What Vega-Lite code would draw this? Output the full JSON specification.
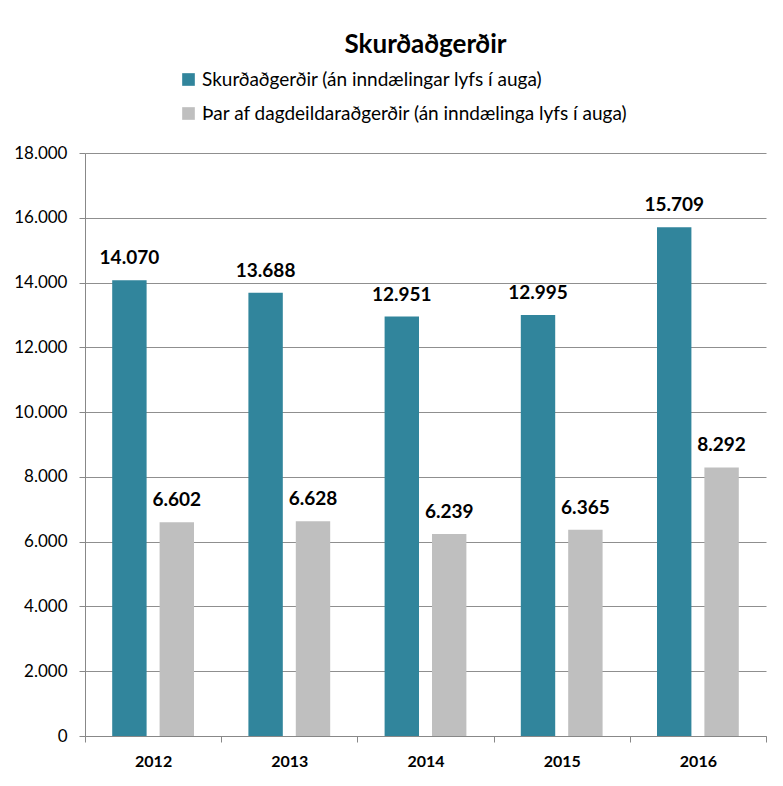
{
  "$schema": "https://vega.github.io/schema/vega-lite/v6.json",
  "width": 681,
  "height": 583,
  "autosize": {"type": "none"},
  "padding": {"left": 85, "top": 153, "right": 17, "bottom": 50},
  "background": "white",
  "config": {
    "locale": {"number": {"decimal": ",", "thousands": ".", "grouping": [3], "currency": ["", " kr."]}},
    "font": "Lato",
    "view": {"stroke": null}
  },
  "title": {
    "text": "Skurðaðgerðir",
    "fontSize": 26,
    "fontWeight": "bold",
    "font": "Lato",
    "color": "#000000",
    "anchor": "middle",
    "frame": "group",
    "offset": 12
  },
  "data": {
    "values": [
      {"year": "2012", "series": "Skurðaðgerðir (án inndælingar lyfs í auga)", "value": 14070},
      {"year": "2012", "series": "Þar af dagdeildaraðgerðir (án inndælinga lyfs í auga)", "value": 6602},
      {"year": "2013", "series": "Skurðaðgerðir (án inndælingar lyfs í auga)", "value": 13688},
      {"year": "2013", "series": "Þar af dagdeildaraðgerðir (án inndælinga lyfs í auga)", "value": 6628},
      {"year": "2014", "series": "Skurðaðgerðir (án inndælingar lyfs í auga)", "value": 12951},
      {"year": "2014", "series": "Þar af dagdeildaraðgerðir (án inndælinga lyfs í auga)", "value": 6239},
      {"year": "2015", "series": "Skurðaðgerðir (án inndælingar lyfs í auga)", "value": 12995},
      {"year": "2015", "series": "Þar af dagdeildaraðgerðir (án inndælinga lyfs í auga)", "value": 6365},
      {"year": "2016", "series": "Skurðaðgerðir (án inndælingar lyfs í auga)", "value": 15709},
      {"year": "2016", "series": "Þar af dagdeildaraðgerðir (án inndælinga lyfs í auga)", "value": 8292}
    ]
  },
  "encoding": {
    "x": {
      "field": "year",
      "type": "nominal",
      "title": null,
      "scale": {"paddingInner": 0, "paddingOuter": 0},
      "axis": {
        "labelAngle": 0,
        "labelFontWeight": "bold",
        "labelFontSize": 16,
        "labelColor": "#000000",
        "labelPadding": 11,
        "tickBand": "extent",
        "tickSize": 6,
        "tickColor": "#888888",
        "domainColor": "#888888",
        "grid": false
      }
    },
    "xOffset": {
      "field": "series",
      "type": "nominal",
      "scale": {"paddingInner": 0.274, "paddingOuter": 0.574}
    },
    "y": {
      "field": "value",
      "type": "quantitative",
      "title": null,
      "scale": {"domain": [0, 18000], "nice": false},
      "axis": {
        "values": [0, 2000, 4000, 6000, 8000, 10000, 12000, 14000, 16000, 18000],
        "format": ",d",
        "labelFontSize": 17,
        "labelColor": "#000000",
        "labelPadding": 12,
        "tickSize": 6,
        "tickColor": "#888888",
        "domainColor": "#888888",
        "gridColor": "#8f8f8f",
        "gridWidth": 1
      }
    }
  },
  "layer": [
    {
      "mark": {"type": "bar"},
      "encoding": {
        "color": {
          "field": "series",
          "type": "nominal",
          "scale": {"range": ["#31859C", "#BFBFBF"]},
          "legend": {
            "title": null,
            "orient": "none",
            "legendX": 94,
            "legendY": -83,
            "direction": "vertical",
            "symbolType": "square",
            "symbolSize": 160,
            "symbolStrokeWidth": 0,
            "labelFontSize": 19,
            "labelLimit": 0,
            "labelColor": "#000000",
            "labelOffset": 4,
            "rowPadding": 14
          }
        }
      }
    },
    {
      "mark": {"type": "text", "dy": -12, "baseline": "bottom", "fontSize": 19, "fontWeight": "bold", "color": "#000000"},
      "encoding": {
        "text": {"field": "value", "type": "quantitative", "format": ",d"}
      }
    }
  ]
}
